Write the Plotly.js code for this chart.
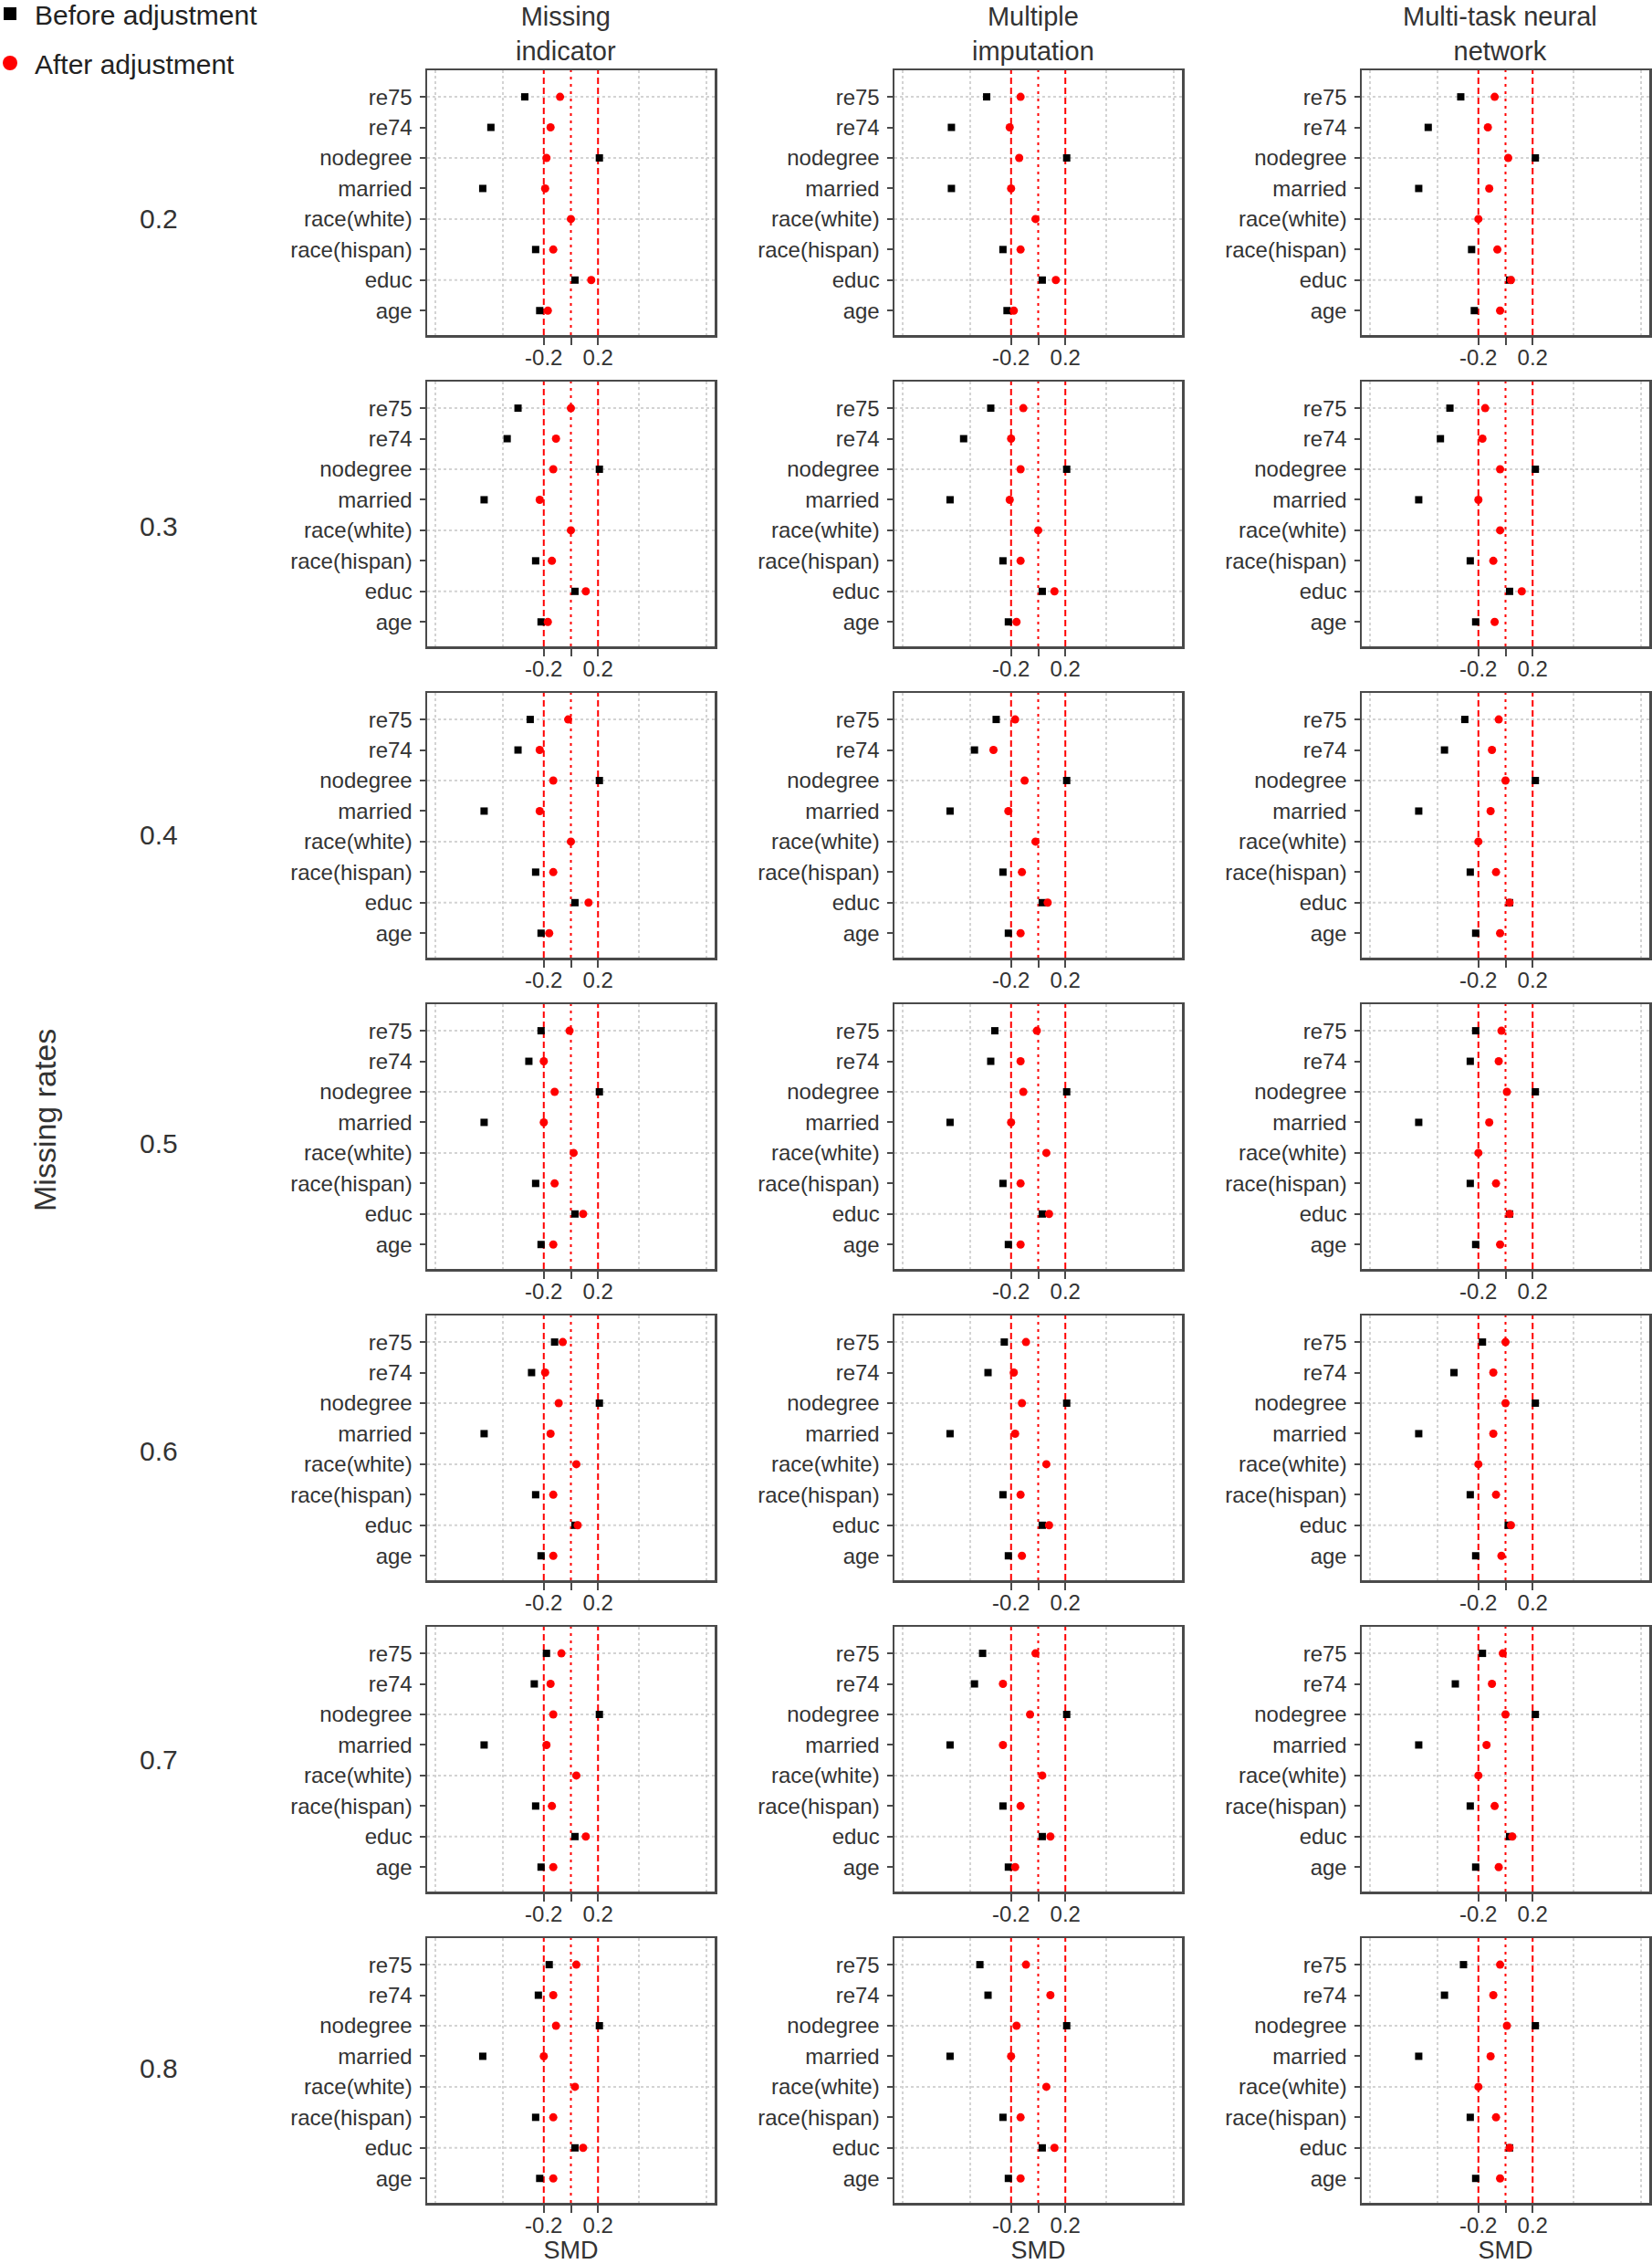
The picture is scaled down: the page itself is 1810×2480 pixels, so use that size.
<!DOCTYPE html>
<html>
<head>
<meta charset="utf-8">
<script src="https://cdn.plot.ly/plotly-3.0.1.min.js"></script>
<style>
html, body { margin: 0; padding: 0; background: #ffffff; }
#chart { width: 1810px; height: 2480px; }
</style>
</head>
<body>
<div id="chart"></div>
<script>
// ---------------- DATA ----------------
const variables = ['re75', 're74', 'nodegree', 'married', 'race(white)', 'race(hispan)', 'educ', 'age'];
const methods = ['Missing<br>indicator', 'Multiple<br>imputation', 'Multi-task neural<br>network'];
const missingRates = ['0.2', '0.3', '0.4', '0.5', '0.6', '0.7', '0.8'];
const seriesNames = ['Before adjustment', 'After adjustment'];
const xAxisTitle = 'SMD';
const yAxisTitle = 'Missing rates';
const dashedRefLines = [-0.2, 0.2];
const dottedRefLines = [0];
const xTickVals = [-0.2, 0, 0.2];
const xTickText = ['-0.2', '', '0.2'];
const xGridVals = [-1, -0.5, 0.5, 1];
const yGridVars = ['re75', 'nodegree', 'race(white)', 'educ'];

// values follow the order of `variables`; one row per missing rate
const before_missingIndicator = [
  [-0.34, -0.59, 0.21, -0.65, null, -0.26, 0.03, -0.23],
  [-0.39, -0.47, 0.21, -0.64, null, -0.26, 0.03, -0.22],
  [-0.30, -0.39, 0.21, -0.64, null, -0.26, 0.03, -0.22],
  [-0.22, -0.31, 0.21, -0.64, null, -0.26, 0.03, -0.22],
  [-0.12, -0.29, 0.21, -0.64, null, -0.26, 0.03, -0.22],
  [-0.18, -0.27, 0.21, -0.64, null, -0.26, 0.03, -0.22],
  [-0.16, -0.24, 0.21, -0.65, null, -0.26, 0.03, -0.23]
];
const after_missingIndicator = [
  [-0.08, -0.15, -0.18, -0.19, 0.00, -0.13, 0.15, -0.17],
  [ 0.00, -0.11, -0.13, -0.23, 0.00, -0.14, 0.11, -0.17],
  [-0.02, -0.23, -0.13, -0.23, 0.00, -0.13, 0.13, -0.16],
  [-0.01, -0.20, -0.12, -0.20, 0.02, -0.12, 0.09, -0.13],
  [-0.06, -0.19, -0.09, -0.15, 0.04, -0.13, 0.05, -0.13],
  [-0.07, -0.15, -0.13, -0.18, 0.04, -0.14, 0.11, -0.13],
  [ 0.04, -0.13, -0.11, -0.20, 0.03, -0.13, 0.09, -0.13]
];
const before_multipleImputation = [
  [-0.38, -0.64, 0.21, -0.64, null, -0.26, 0.03, -0.23],
  [-0.35, -0.55, 0.21, -0.65, null, -0.26, 0.03, -0.22],
  [-0.31, -0.47, 0.21, -0.65, null, -0.26, 0.03, -0.22],
  [-0.32, -0.35, 0.21, -0.65, null, -0.26, 0.03, -0.22],
  [-0.25, -0.37, 0.21, -0.65, null, -0.26, 0.03, -0.22],
  [-0.41, -0.47, 0.21, -0.65, null, -0.26, 0.03, -0.22],
  [-0.43, -0.37, 0.21, -0.65, null, -0.26, 0.03, -0.22]
];
const after_multipleImputation = [
  [-0.13, -0.21, -0.14, -0.20, -0.02, -0.13, 0.13, -0.18],
  [-0.11, -0.20, -0.13, -0.21,  0.00, -0.13, 0.12, -0.16],
  [-0.17, -0.33, -0.10, -0.22, -0.02, -0.12, 0.07, -0.13],
  [-0.01, -0.13, -0.11, -0.20,  0.06, -0.13, 0.08, -0.13],
  [-0.09, -0.18, -0.12, -0.17,  0.06, -0.13, 0.08, -0.12],
  [-0.02, -0.26, -0.06, -0.26,  0.03, -0.13, 0.09, -0.17],
  [-0.09,  0.09, -0.16, -0.20,  0.06, -0.13, 0.12, -0.13]
];
const before_multiTaskNN = [
  [-0.33, -0.57, 0.22, -0.64, null, -0.25, 0.03, -0.23],
  [-0.41, -0.48, 0.22, -0.64, null, -0.26, 0.03, -0.22],
  [-0.30, -0.45, 0.22, -0.64, null, -0.26, 0.03, -0.22],
  [-0.22, -0.26, 0.22, -0.64, null, -0.26, 0.03, -0.22],
  [-0.17, -0.38, 0.22, -0.64, null, -0.26, 0.02, -0.22],
  [-0.17, -0.37, 0.22, -0.64, null, -0.26, 0.03, -0.22],
  [-0.31, -0.45, 0.22, -0.64, null, -0.26, 0.03, -0.22]
];
const after_multiTaskNN = [
  [-0.08, -0.13,  0.02, -0.12, -0.20, -0.06, 0.04, -0.04],
  [-0.15, -0.17, -0.04, -0.20, -0.04, -0.09, 0.12, -0.08],
  [-0.05, -0.10,  0.00, -0.11, -0.20, -0.07, 0.03, -0.04],
  [-0.03, -0.05,  0.01, -0.12, -0.20, -0.07, 0.03, -0.04],
  [ 0.00, -0.09,  0.00, -0.09, -0.20, -0.07, 0.04, -0.03],
  [-0.02, -0.10,  0.00, -0.14, -0.20, -0.08, 0.05, -0.05],
  [-0.04, -0.09,  0.01, -0.11, -0.20, -0.07, 0.03, -0.04]
];

const beforeByMethod = [before_missingIndicator, before_multipleImputation, before_multiTaskNN];
const afterByMethod = [after_missingIndicator, after_multipleImputation, after_multiTaskNN];

// ---------------- LAYOUT GEOMETRY (pixels) ----------------
const W = 1810, H = 2480;
const colLeft = [468, 980, 1492];
const panelW = 315;
const rowTop0 = 77, rowPitch = 341, panelH = 290;
const FONT = 'Liberation Sans, Arial, Helvetica, sans-serif';
const TXT = '#333333';
const AXC = '#4a4a4a';

const px2x = p => p / W;
const px2y = p => 1 - p / H;

const data = [];
const shapes = [];
const annotations = [];
const layout = {
  width: W, height: H,
  margin: { l: 0, r: 0, t: 0, b: 0, autoexpand: false },
  paper_bgcolor: '#ffffff',
  plot_bgcolor: '#ffffff',
  font: { family: FONT, color: TXT },
  showlegend: true,
  legend: {
    x: -16 / W, y: 1 + 11 / H, xanchor: 'left', yanchor: 'top',
    font: { family: FONT, size: 30, color: '#222222' },
    bgcolor: 'rgba(0,0,0,0)',
    tracegroupgap: 12,
    itemwidth: 44
  }
};

for (let r = 0; r < missingRates.length; r++) {
  for (let c = 0; c < methods.length; c++) {
    const n = r * methods.length + c + 1;
    const sfx = n === 1 ? '' : String(n);
    const xa = 'x' + sfx, ya = 'y' + sfx;
    const top = rowTop0 + rowPitch * r;
    const bottom = top + panelH;

    layout['xaxis' + sfx] = {
      domain: [px2x(colLeft[c]), px2x(colLeft[c] + panelW)],
      anchor: ya,
      range: [-1.06, 1.06],
      tickmode: 'array', tickvals: xTickVals, ticktext: xTickText,
      ticks: 'outside', ticklen: 8, tickwidth: 2, tickcolor: AXC,
      ticklabelstandoff: -6,
      tickfont: { family: FONT, size: 24, color: TXT },
      showline: true, mirror: true, linecolor: AXC, linewidth: 2.5,
      showgrid: false, zeroline: false, fixedrange: true,
      minor: { tickmode: 'array', tickvals: xGridVals, showgrid: true,
               gridcolor: '#d3d3d3', gridwidth: 2, griddash: 'dot', ticks: '' },
      title: r === missingRates.length - 1
        ? { text: xAxisTitle, font: { family: FONT, size: 27, color: TXT }, standoff: 2 }
        : { text: '' }
    };
    layout['yaxis' + sfx] = {
      domain: [px2y(bottom), px2y(top)],
      anchor: xa,
      type: 'category',
      categoryorder: 'array', categoryarray: variables.slice().reverse(),
      range: [-0.8, 7.87],
      ticks: 'outside', ticklen: 6, tickwidth: 2, tickcolor: AXC,
      ticklabelstandoff: 3,
      tickfont: { family: FONT, size: 24, color: TXT },
      showline: true, mirror: true, linecolor: AXC, linewidth: 2.5,
      showgrid: false, zeroline: false, fixedrange: true
    };

    yGridVars.forEach(v => shapes.push({
      type: 'line', layer: 'below',
      xref: xa + ' domain', x0: 0, x1: 1,
      yref: ya, y0: v, y1: v,
      line: { color: '#d3d3d3', width: 2, dash: 'dot' }
    }));
    dashedRefLines.forEach(t => shapes.push({
      type: 'line', layer: 'below',
      xref: xa, x0: t, x1: t,
      yref: ya + ' domain', y0: 0, y1: 1,
      line: { color: '#ff0000', width: 2, dash: '7px,4px' }
    }));
    dottedRefLines.forEach(t => shapes.push({
      type: 'line', layer: 'below',
      xref: xa, x0: t, x1: t,
      yref: ya + ' domain', y0: 0, y1: 1,
      line: { color: '#ff0000', width: 2, dash: '3px,5px' }
    }));

    data.push({
      type: 'scatter', mode: 'markers', name: seriesNames[0],
      x: beforeByMethod[c][r], y: variables,
      xaxis: xa, yaxis: ya, showlegend: false, hoverinfo: 'skip',
      marker: { symbol: 'square', size: 8, color: '#000000' }
    });
    data.push({
      type: 'scatter', mode: 'markers', name: seriesNames[1],
      x: afterByMethod[c][r], y: variables,
      xaxis: xa, yaxis: ya, showlegend: false, hoverinfo: 'skip',
      marker: { symbol: 'circle', size: 9, color: '#ff0000' }
    });
  }

  // row label (missing rate)
  annotations.push({
    xref: 'paper', yref: 'paper',
    x: px2x(174), y: px2y(239 + 337.7 * r),
    xanchor: 'center', yanchor: 'middle', showarrow: false,
    text: missingRates[r], font: { family: FONT, size: 30, color: TXT }
  });
}

// legend entries (no points drawn)
data.push({
  type: 'scatter', mode: 'markers', name: seriesNames[0], legendgroup: 'a',
  x: [null], y: [null], xaxis: 'x', yaxis: 'y', showlegend: true,
  marker: { symbol: 'square', size: 14, color: '#000000' }
});
data.push({
  type: 'scatter', mode: 'markers', name: seriesNames[1], legendgroup: 'b',
  x: [null], y: [null], xaxis: 'x', yaxis: 'y', showlegend: true,
  marker: { symbol: 'circle', size: 16, color: '#ff0000' }
});

// column titles
for (let c = 0; c < methods.length; c++) {
  annotations.push({
    xref: 'paper', yref: 'paper',
    x: px2x(colLeft[c] + panelW / 2 - 6), y: px2y(37),
    xanchor: 'center', yanchor: 'middle', showarrow: false,
    text: methods[c], font: { family: FONT, size: 29, color: TXT }
  });
}

// overall y title
annotations.push({
  xref: 'paper', yref: 'paper',
  x: px2x(49), y: px2y(1227),
  xanchor: 'center', yanchor: 'middle', showarrow: false, textangle: -90,
  text: yAxisTitle, font: { family: FONT, size: 34, color: TXT }
});

layout.shapes = shapes;
layout.annotations = annotations;

Plotly.newPlot('chart', data, layout, { staticPlot: true, displayModeBar: false });
</script>
</body>
</html>
